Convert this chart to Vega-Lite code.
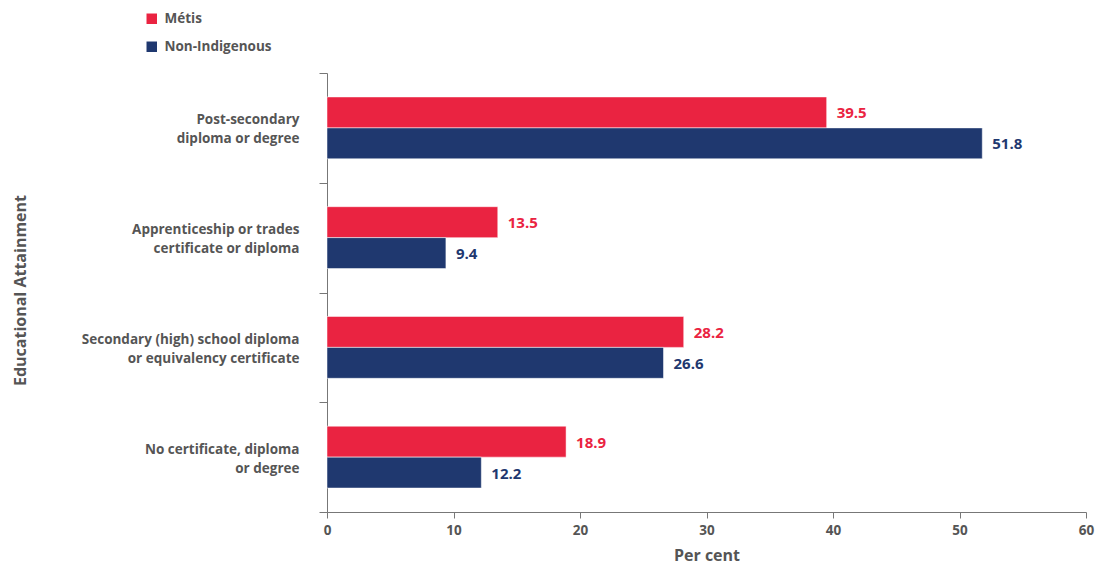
{
  "$schema": "https://vega.github.io/schema/vega-lite/v6.json",
  "width": 759,
  "height": 439,
  "autosize": {"type": "none"},
  "padding": {"left": 327, "top": 73, "right": 14, "bottom": 56},
  "background": "white",
  "config": {
    "view": {"stroke": null},
    "font": "Open Sans",
    "axis": {"labelFont": "Open Sans", "titleFont": "Open Sans", "labelColor": "#555555", "titleColor": "#555555", "domainColor": "#777777", "tickColor": "#777777", "grid": false}
  },
  "data": {
    "values": [
      {"cat": "Post-secondary|diploma or degree", "group": "Métis", "value": 39.5},
      {"cat": "Post-secondary|diploma or degree", "group": "Non-Indigenous", "value": 51.8},
      {"cat": "Apprenticeship or trades|certificate or diploma", "group": "Métis", "value": 13.5},
      {"cat": "Apprenticeship or trades|certificate or diploma", "group": "Non-Indigenous", "value": 9.4},
      {"cat": "Secondary (high) school diploma|or equivalency certificate", "group": "Métis", "value": 28.2},
      {"cat": "Secondary (high) school diploma|or equivalency certificate", "group": "Non-Indigenous", "value": 26.6},
      {"cat": "No certificate, diploma|or degree", "group": "Métis", "value": 18.9},
      {"cat": "No certificate, diploma|or degree", "group": "Non-Indigenous", "value": 12.2}
    ]
  },
  "encoding": {
    "y": {
      "field": "cat", "type": "nominal", "sort": null,
      "scale": {"paddingInner": 0, "paddingOuter": 0},
      "axis": {
        "title": "Educational Attainment", "titleFontSize": 16, "titleFontWeight": "bold", "titleX": -299, "titleY": 217,
        "labelExpr": "split(datum.label, '|')", "labelFontSize": 13.5, "labelFontWeight": "bold", "labelLineHeight": 19,
        "labelPadding": 20, "tickSize": 8, "tickBand": "extent", "labelLimit": 400, "labelOffset": -8
      }
    },
    "yOffset": {"field": "group", "type": "nominal", "sort": ["Métis", "Non-Indigenous"], "scale": {"paddingInner": 0, "paddingOuter": 0.774}},
    "x": {
      "field": "value", "type": "quantitative",
      "scale": {"domain": [0, 60], "nice": false},
      "axis": {
        "title": "Per cent", "titleFontSize": 16, "titleFontWeight": "bold", "titlePadding": 11,
        "values": [0, 10, 20, 30, 40, 50, 60], "labelFontSize": 13.5, "labelFontWeight": "bold",
        "tickSize": 6, "labelPadding": 5, "labelFlush": false
      }
    },
    "color": {
      "field": "group", "type": "nominal",
      "scale": {"domain": ["Métis", "Non-Indigenous"], "range": ["#EA2341", "#1F386F"]},
      "legend": {
        "title": null, "orient": "none", "legendX": -182, "legendY": -61, "direction": "vertical",
        "symbolType": "square", "symbolSize": 110, "symbolStrokeWidth": 0, "symbolOpacity": 1,
        "labelFont": "Open Sans", "labelFontSize": 13.5, "labelFontWeight": "bold", "labelColor": "#555555",
        "rowPadding": 13, "labelOffset": 6
      }
    }
  },
  "layer": [
    {"mark": {"type": "bar", "stroke": "white", "strokeWidth": 0.5}},
    {
      "mark": {"type": "text", "align": "left", "dx": 10, "dy": 1, "font": "Open Sans", "fontSize": 15, "fontWeight": "bold"},
      "encoding": {"text": {"field": "value", "type": "quantitative", "format": ".1f"}}
    }
  ]
}
